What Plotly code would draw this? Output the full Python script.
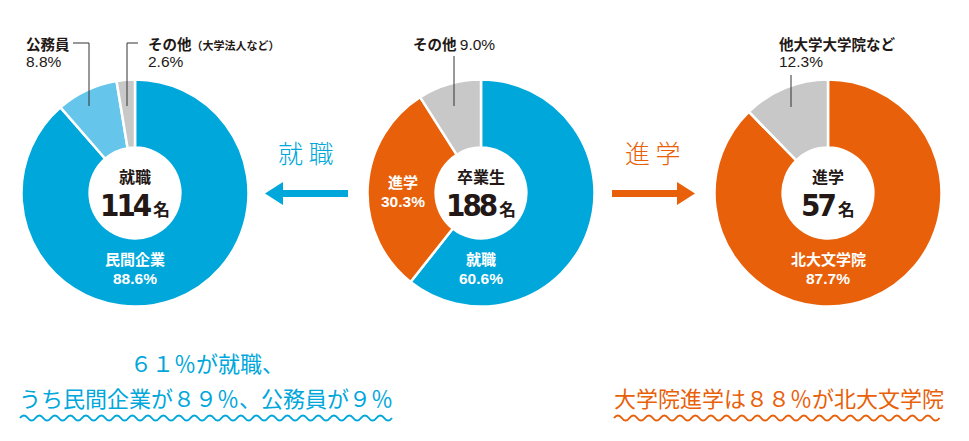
import plotly.graph_objects as go

W, H = 969, 441

# data
emp_labels = ["民間企業", "公務員", "その他"]
emp_values = [88.6, 8.8, 2.6]
emp_total = 114

grad_labels = ["就職", "進学", "その他"]
grad_values = [60.6, 30.3, 9.0]
grad_total = 188

adv_labels = ["北大文学院", "他大学大学院など"]
adv_values = [87.7, 12.3]
adv_total = 57

BLUE = "#00A7DB"
LIGHT = "#66C5EA"
GRAY = "#C8C8C8"
ORANGE = "#E8610A"
DARK = "#231815"
JP = "Noto Sans CJK JP"
NUM = "DejaVu Sans Condensed"
PCT = "Liberation Sans"

R = 113.5
HOLE = 0.4


def domain(cx, cy):
    return dict(x=[(cx - R) / W, (cx + R) / W],
                y=[(H - cy - R) / H, (H - cy + R) / H])


fig = go.Figure()


def add_pie(cx, cy, labels, values, colors, name):
    fig.add_trace(go.Pie(
        labels=labels, values=values, name=name, sort=False,
        direction="clockwise", rotation=0, hole=HOLE,
        marker=dict(colors=colors, line=dict(color="white", width=2.5)),
        textinfo="none", hoverinfo="label+percent", showlegend=False,
        domain=domain(cx, cy)))


add_pie(135, 193, emp_labels, emp_values, [BLUE, LIGHT, GRAY], "就職")
add_pie(481, 193, grad_labels, grad_values, [BLUE, ORANGE, GRAY], "卒業生")
add_pie(828, 193, adv_labels, adv_values, [ORANGE, GRAY], "進学")

ann = []


def text(x, y, s, size=14, color=DARK, family=JP, xanchor="center", weight="bold"):
    ann.append(dict(x=x, y=y, xref="x", yref="y", text=s, showarrow=False,
                    xanchor=xanchor, yanchor="middle", align="left" if xanchor == "left" else "center",
                    font=dict(size=size, color=color, family=family, weight=weight)))


def center(cx, title, total):
    text(cx, 176, title, size=16)
    text(cx, 205, "<span style='font-family:%s;font-size:31px;letter-spacing:-3px'>%d</span>"
         "<span style='font-size:17px'> 名</span>" % (NUM, total), size=17)


center(135, "就職", emp_total)
center(481, "卒業生", grad_total)
center(828, "進学", adv_total)


# inside slice labels
def inside(x, y, label, value):
    text(x, y, label, size=15, color="white")
    text(x, y + 20, "%.1f%%" % value, size=15.5, color="white", family=PCT)


inside(135, 258, emp_labels[0], emp_values[0])
inside(481, 258, grad_labels[0], grad_values[0])
inside(403, 181, grad_labels[1], grad_values[1])
inside(828, 258, adv_labels[0], adv_values[0])


# outside labels
def pct(v):
    return "<span style='font-family:%s;font-weight:normal;font-size:15.5px'>%.1f%%</span>" % (PCT, v)


text(24, 43, emp_labels[1], size=14.5, xanchor="left")
text(24, 61, pct(emp_values[1]), size=15, xanchor="left")
text(146, 43, emp_labels[2] + "<span style='font-size:11px'>（大学法人など）</span>", size=14.5, xanchor="left")
text(146, 61, pct(emp_values[2]), size=15, xanchor="left")
text(411, 43, grad_labels[2] + " " + pct(grad_values[2]), size=14.5, xanchor="left")
text(777, 43, adv_labels[1], size=14.5, xanchor="left")
text(777, 61, pct(adv_values[1]), size=15, xanchor="left")

# arrow captions
text(306, 152, "就 職", size=25, color=BLUE, weight=300)
text(653, 152, "進 学", size=25, color=ORANGE, weight=300)

# bottom messages
text(207, 362, "６１％が就職、", size=22, color=BLUE, weight="normal")
text(206, 397, "うち民間企業が８９％、公務員が９％", size=22, color=BLUE, weight="normal")
text(779, 397, "大学院進学は８８％が北大文学院", size=22, color=ORANGE, weight="normal")

shapes = []
line_style = dict(color="#333333", width=1)
# leader lines
for pts in [[(73, 43), (89, 43), (89, 106)],
            [(138, 43), (127, 43), (127, 106)],
            [(454, 56), (454, 106)],
            [(791, 75), (791, 107)]]:
    path = "M %s %s " % pts[0] + " ".join("L %s %s" % p for p in pts[1:])
    shapes.append(dict(type="path", path=path, xref="x", yref="y", line=line_style))

# arrows
shapes.append(dict(type="path", xref="x", yref="y", fillcolor=BLUE, line=dict(width=0),
                   path="M 265 193.5 L 283 182 L 283 190 L 348 190 L 348 197 L 283 197 L 283 205 Z"))
shapes.append(dict(type="path", xref="x", yref="y", fillcolor=ORANGE, line=dict(width=0),
                   path="M 695 193.5 L 677 182 L 677 190 L 612 190 L 612 197 L 677 197 L 677 205 Z"))


def wave(x0, x1, y, color, period=15.5, amp=2.6):
    n = int((x1 - x0) / period)
    p = "M %.1f %.1f" % (x0, y)
    x = x0
    for i in range(n):
        p += " Q %.1f %.1f %.1f %.1f" % (x + period / 4, y - amp * 2, x + period / 2, y)
        p += " Q %.1f %.1f %.1f %.1f" % (x + 3 * period / 4, y + amp * 2, x + period, y)
        x += period
    shapes.append(dict(type="path", path=p, xref="x", yref="y", line=dict(color=color, width=2)))


wave(20, 393, 418, BLUE)
wave(614, 945, 418, ORANGE)

fig.update_layout(
    width=W, height=H, margin=dict(l=0, r=0, t=0, b=0),
    paper_bgcolor="white", plot_bgcolor="white",
    xaxis=dict(range=[0, W], visible=False, fixedrange=True),
    yaxis=dict(range=[H, 0], visible=False, fixedrange=True),
    annotations=ann, shapes=shapes,
    font=dict(family=JP),
)

# page body has an 8px default margin; drop it so the figure fills the window
fig.write_html("out.html", config=dict(displayModeBar=False),
               post_script="document.body.style.margin='0';")
